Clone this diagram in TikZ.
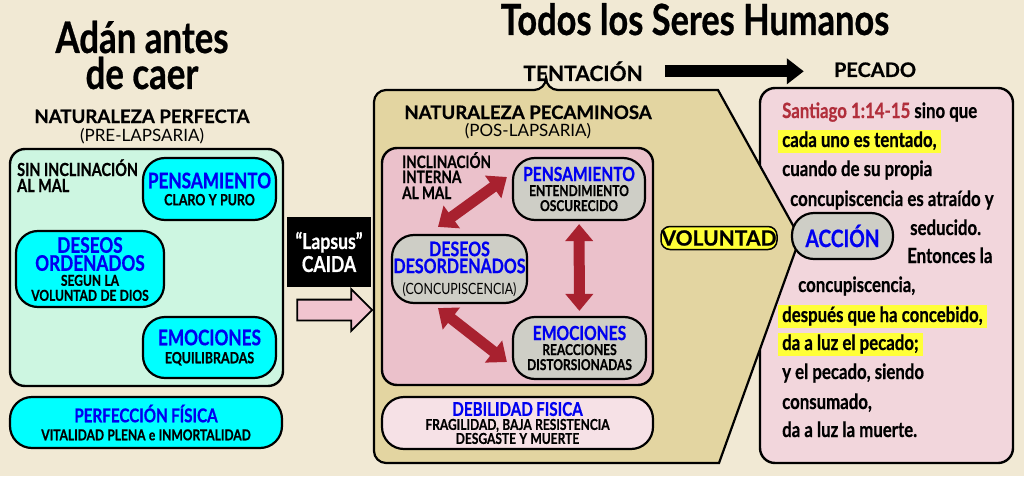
\documentclass[tikz,border=0pt]{standalone}
\usepackage{fontspec}
\setmainfont{Lato}[BoldFeatures={FakeBold=0.6}]
\newfontfamily\narrowfont{Lato}[FakeStretch=0.8, BoldFeatures={FakeBold=0.6}]
\usetikzlibrary{shapes,arrows.meta,positioning}

% Color Palette
\definecolor{bgcream}{HTML}{F1E9D4}
\definecolor{mintfill}{HTML}{CDF6E1}
\definecolor{cyanfill}{HTML}{00FFFF}
\definecolor{headblue}{HTML}{0000F0}
\definecolor{beigefill}{HTML}{E3D5A1}
\definecolor{rosefill}{HTML}{EBC1CB}
\definecolor{greyfill}{HTML}{CECEC6}
\definecolor{palerose}{HTML}{F6E1E6}
\definecolor{versefill}{HTML}{F2D6DC}
\definecolor{arrowred}{HTML}{A8212F}
\definecolor{santred}{HTML}{B12E3B}
\definecolor{hlyellow}{HTML}{FFFF38}
\definecolor{fallpink}{HTML}{F1C4CF}

\newcommand{\fsize}[2]{\fontsize{#1}{#2}\selectfont}
\newcommand{\bluehead}[3]{{\color{headblue}\fsize{#1}{#2}#3\par}}
\newcommand{\subline}[3]{{\fsize{#1}{#2}#3\par}}

\begin{document}
\begin{tikzpicture}[
    x=1pt, y=-1pt,
    every node/.style={
        font=\narrowfont\bfseries,
        inner sep=0pt
    },
    boxsize/.style 2 args={
        minimum width=#1pt,
        text width=#1pt,
        minimum height=#2pt
    },
    pill/.style={
        draw=black,
        line width=2.2pt,
        rounded corners=22pt,
        align=center
    },
    cyanbox/.style={pill, fill=cyanfill},
    greybox/.style={pill, fill=greyfill},
    panel/.style={
        draw=black,
        line width=2.4pt,
        rounded corners=15pt
    },
    heading/.style={font=\rmfamily\bfseries},
    verse/.style={
        font=\narrowfont\bfseries\fsize{21}{21},
        anchor=base west,
        inner xsep=4pt,
        inner ysep=2pt,
        text height=15pt,
        text depth=4pt
    },
    hl/.style={fill=hlyellow},
    redarrow/.style={
        arrowred,
        line width=11pt,
        >={Triangle[length=17pt,width=27pt]},
        <->
    },
    blackarrow/.style={
        black,
        line width=12pt,
        >={Triangle[length=17pt,width=25pt]},
        ->
    }
]

\useasboundingbox (0,0) rectangle (1024,476);
\fill[bgcream] (0,0) rectangle (1024,476);

% Titles
\node[anchor=base, text depth=0pt] (adan1) at (142,53) {\fsize{43.5}{42}Adán antes};
\node[anchor=base] (adan2) at (142,89) {\fsize{43.5}{42}de caer};
\node[anchor=base] (todos) at (695,35) {\fsize{43}{42}Todos los Seres Humanos};

% Perfect nature (left)
\node[heading, anchor=base] (natperf) at (142,123) {\fsize{18.6}{20}NATURALEZA PERFECTA};
\node[font=\rmfamily, anchor=base] (prelap) at (142,141) {\fsize{17}{17}(PRE-LAPSARIA)};

\node[panel, fill=mintfill, minimum width=273pt, minimum height=237pt] (perfpanel) at (146.5,267.5) {};
\node[anchor=base west] (sinincl1) at (17,176) {\fsize{18}{18}SIN INCLINACIÓN};
\node[anchor=base west] (sinincl2) at (17,192) {\fsize{18}{18}AL MAL};

\node[cyanbox, boxsize={133}{62}] (pens1) at (209.5,189)
    {\bluehead{21.5}{19}{PENSAMIENTO}\subline{15.5}{17}{CLARO Y PURO}};
\node[cyanbox, boxsize={148}{76}] (deseos1) at (90,269)
    {\bluehead{21.5}{18}{DESEOS\\ORDENADOS}\subline{15}{15}{SEGUN LA\\VOLUNTAD DE DIOS}};
\node[cyanbox, boxsize={133}{61}] (emo1) at (209.5,347.5)
    {\bluehead{21.5}{19}{EMOCIONES}\subline{15.5}{18}{EQUILIBRADAS}};
\node[cyanbox, boxsize={272}{51}] (perf) at (146,422.5)
    {\bluehead{19}{18}{PERFECCIÓN FÍSICA}\subline{15}{18}{VITALIDAD PLENA e INMORTALIDAD}};

% The fall
\node[fill=black, boxsize={84}{70}, align=center, text=white] (lapsus) at (329,252)
    {\subline{22}{23}{“Lapsus”\\CAIDA}};
\node[single arrow, draw=black, line width=1.8pt, fill=fallpink, inner ysep=9.5pt,
      minimum width=40pt, minimum height=75pt, single arrow head extend=10.5pt] (fallarrow) at (329.5,310) {};

% Verse box (right)
\node[panel, fill=versefill, minimum width=253pt, minimum height=375pt] (versebox) at (886.5,275.5) {};

% Sinful nature (middle)
\draw[fill=beigefill, draw=black, line width=2.2pt]
    (546,90) -- (718,90) -- (800,238) -- (719,463) -- (540,463)
    [rounded corners=12pt] -- (374,463) -- (374,90) -- (546,90) -- cycle;

\node[heading, anchor=base] (natpec) at (528,119) {\fsize{18.6}{20}NATURALEZA PECAMINOSA};
\node[font=\rmfamily, anchor=base] (poslap) at (528,136) {\fsize{17}{17}(POS-LAPSARIA)};

\node[panel, fill=rosefill, minimum width=271pt, minimum height=237pt] (innerpanel) at (517.5,266.5) {};
\node[anchor=base west] (incl1) at (402,168) {\fsize{17}{17}INCLINACIÓN};
\node[anchor=base west] (incl2) at (402,183) {\fsize{17}{17}INTERNA};
\node[anchor=base west] (incl3) at (402,199) {\fsize{17}{17}AL MAL};

\node[greybox, boxsize={132}{62}] (pens2) at (579,189)
    {\bluehead{19.5}{19}{PENSAMIENTO}\subline{15}{15}{ENTENDIMIENTO\\OSCURECIDO}};
\node[greybox, boxsize={135}{68}] (deseos2) at (459.5,269)
    {\bluehead{20}{17}{DESEOS\\DESORDENADOS}{\mdseries\subline{15.5}{21}{(CONCUPISCENCIA)}}};
\node[greybox, boxsize={133}{62}] (emo2) at (579.5,348)
    {\bluehead{19.5}{19}{EMOCIONES}\subline{15}{15}{REACCIONES\\DISTORSIONADAS}};

\draw[redarrow] ([xshift=-21.5pt, yshift=7pt]deseos2.north) -- ([xshift=-5pt, yshift=12pt]pens2.west);
\draw[redarrow, shorten <=3pt, shorten >=5pt] (pens2) -- (emo2);
\draw[redarrow] ([xshift=-21.5pt, yshift=-4pt]deseos2.south) -- ([xshift=-5pt, yshift=-14pt]emo2.west);

\node[pill, fill=palerose, boxsize={271}{52}] (debil) at (517.5,423)
    {\bluehead{19}{18}{DEBILIDAD FISICA}\subline{15}{14}{FRAGILIDAD, BAJA RESISTENCIA\\DESGASTE Y MUERTE}};

% Will and action
\node[heading, draw=black, line width=1.5pt, rounded corners=9pt, fill=hlyellow,
      minimum width=116pt, minimum height=23pt] (volun) at (719,238) {\fsize{21}{21}VOLUNTAD};
\node[greybox, boxsize={101}{46}] (accion) at (842.5,236) {\bluehead{24}{23}{ACCIÓN}};

% Temptation to sin
\node[heading, anchor=base] (tent) at (583,81) {\fsize{21}{21}TENTACIÓN};
\node[heading, anchor=base] (pec) at (875,77) {\fsize{20}{20}PECADO};
\draw[blackarrow] ([xshift=22pt]tent.east) -- ([xshift=-30pt]tent.east -| pec.west);

% James 1:14-15
\node[verse] (v1) at (778,118) {\textcolor{santred}{Santiago 1:14-15} sino que};
\node[verse, hl] (v2) at (778,147) {cada uno es tentado,};
\node[verse] (v3) at (778,176) {cuando de su propia};
\node[verse] (v4) at (786,206) {concupiscencia es atraído y};
\node[verse] (v5) at (906,235) {seducido.};
\node[verse] (v6) at (903,263) {Entonces la};
\node[verse] (v7) at (794,292) {concupiscencia,};
\node[verse, hl] (v8) at (778,322) {después que ha concebido,};
\node[verse, hl] (v9) at (778,350) {da a luz el pecado;};
\node[verse] (v10) at (778,379) {y el pecado, siendo};
\node[verse] (v11) at (778,409) {consumado,};
\node[verse] (v12) at (778,437) {da a luz la muerte.};

\end{tikzpicture}
\end{document}
